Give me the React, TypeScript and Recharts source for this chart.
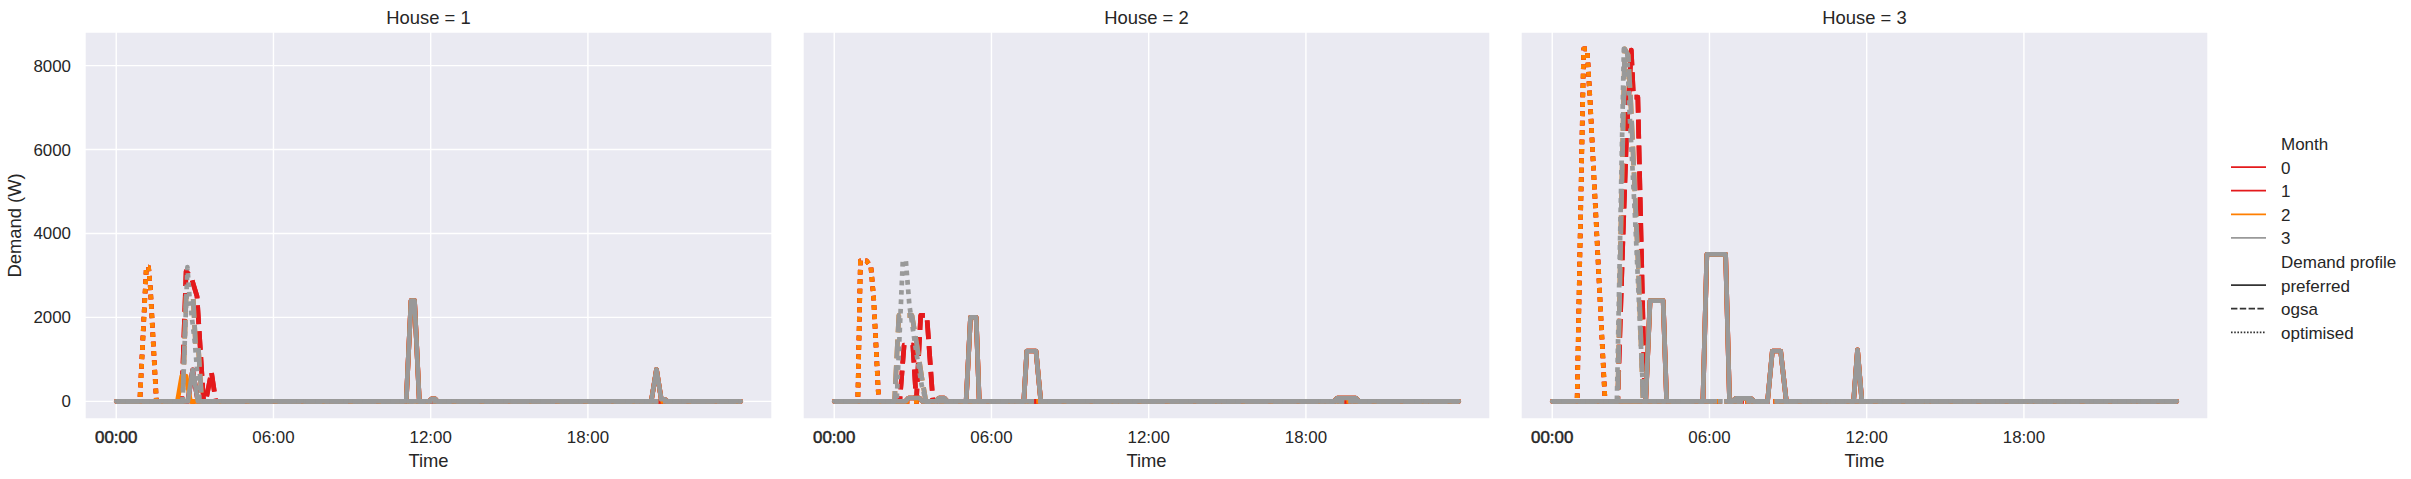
import { LineChart, Line, XAxis, YAxis, CartesianGrid } from "recharts";

const FONT = '"Liberation Sans", Arial, sans-serif';
const INK = "#262626";

const months = [0, 1, 2, 3];
const monthColors = ["#e41a1c", "#e41a1c", "#ff7f00", "#999999"];
const profileNames = ["preferred", "ogsa", "optimised"];
const timeTicks = [0, 360, 720, 1080];
const demandTicks = [0, 2000, 4000, 6000, 8000];

// points are [minute of day, demand in W]
const h1Preferred = [[0, 0], [164, 0], [175, 750], [187, 0], [664, 0], [675, 2400], [683, 2400], [694, 0], [716, 0], [722, 60], [730, 60], [735, 0], [1225, 0], [1237, 760], [1248, 50], [1256, 50], [1262, 0], [1430, 0]];
const h1PreferredM2 = [[0, 0], [140, 0], [150, 600], [160, 600], [170, 0], [664, 0], [675, 2400], [683, 2400], [694, 0], [716, 0], [722, 60], [730, 60], [735, 0], [1225, 0], [1237, 760], [1248, 50], [1256, 50], [1262, 0], [1430, 0]];
const h1OgsaEarly = [[0, 0], [150, 0], [160, 3100], [172, 2950], [185, 2500], [200, 0], [205, 0], [218, 700], [228, 0], [1430, 0]];
const h1OgsaLate = [[0, 0], [152, 0], [160, 2500], [176, 2500], [182, 1300], [188, 1300], [196, 0], [1430, 0]];
const h1Optimised = [[0, 0], [54, 0], [69, 3200], [74, 3200], [78, 2730], [92, 0], [1430, 0]];
const h1OptimisedM3 = [[0, 0], [152, 0], [163, 3200], [168, 2460], [180, 1400], [191, 0], [1430, 0]];

const h2Preferred = [[0, 0], [163, 0], [170, 80], [195, 80], [202, 0], [232, 0], [240, 80], [252, 80], [259, 0], [302, 0], [312, 2000], [325, 2000], [332, 0], [434, 0], [441, 1200], [462, 1200], [473, 0], [1144, 0], [1152, 80], [1194, 80], [1202, 0], [1430, 0]];
const h2OgsaEarly = [[0, 0], [150, 0], [160, 1340], [180, 1340], [188, 0], [198, 2050], [212, 2050], [226, 0], [1430, 0]];
const h2OgsaLate = [[0, 0], [138, 0], [148, 2050], [178, 2050], [190, 1300], [200, 600], [210, 0], [1430, 0]];
const h2Optimised = [[0, 0], [54, 0], [60, 3350], [74, 3350], [84, 3200], [90, 2500], [102, 0], [1430, 0]];
const h2OptimisedM3 = [[0, 0], [143, 0], [157, 3350], [164, 3350], [172, 2300], [186, 1300], [200, 400], [210, 0], [1430, 0]];

const h3Preferred = [[0, 0], [214, 0], [224, 2400], [254, 2400], [262, 0], [345, 0], [354, 3500], [397, 3500], [406, 0], [412, 0], [420, 70], [455, 70], [463, 0], [493, 0], [504, 1200], [523, 1200], [536, 0], [690, 0], [699, 1230], [709, 0], [1430, 0]];
const h3OgsaEarly = [[0, 0], [150, 0], [161, 3600], [170, 6300], [181, 8370], [186, 7250], [196, 7250], [212, 0], [1430, 0]];
const h3OgsaLate = [[0, 0], [150, 0], [157, 4000], [166, 8400], [174, 8250], [180, 7100], [198, 3000], [208, 0], [1430, 0]];
const h3Optimised = [[0, 0], [57, 0], [72, 8400], [80, 8400], [87, 7100], [100, 4400], [110, 2300], [121, 0], [1430, 0]];
const h3OptimisedM3 = [[0, 0], [148, 0], [164, 8400], [172, 8300], [176, 7100], [190, 4300], [209, 0], [1430, 0]];

// per house: profile -> series for months 0..3
const houses = [
  {
    label: "House = 1",
    preferred: [h1Preferred, h1Preferred, h1PreferredM2, h1Preferred],
    ogsa: [h1OgsaEarly, h1OgsaEarly, h1OgsaLate, h1OgsaLate],
    optimised: [h1Optimised, h1Optimised, h1Optimised, h1OptimisedM3],
  },
  {
    label: "House = 2",
    preferred: [h2Preferred, h2Preferred, h2Preferred, h2Preferred],
    ogsa: [h2OgsaEarly, h2OgsaEarly, h2OgsaLate, h2OgsaLate],
    optimised: [h2Optimised, h2Optimised, h2Optimised, h2OptimisedM3],
  },
  {
    label: "House = 3",
    preferred: [h3Preferred, h3Preferred, h3Preferred, h3Preferred],
    ogsa: [h3OgsaEarly, h3OgsaEarly, h3OgsaLate, h3OgsaLate],
    optimised: [h3Optimised, h3Optimised, h3Optimised, h3OptimisedM3],
  },
];

const LW = 4.7;
const dashes: Record<string, string | undefined> = {
  preferred: undefined,
  ogsa: `${LW * 4} ${LW * 1.5}`,
  optimised: `${LW} ${LW}`,
};

const PLOT_LEFTS = [85, 803, 1521];
const PLOT_W = 687;
const PLOT_TOP = 32;
const PLOT_H = 387;
const AXIS_W = 85;

const hhmm = (m: number) =>
  `${String(Math.floor(m / 60)).padStart(2, "0")}:${String(m % 60).padStart(2, "0")}`;

const toPoints = (pairs: number[][]) => pairs.map(([t, w]) => ({ t, w }));

function TimeTick(props: any) {
  const { x, y, payload } = props;
  const first = payload.value === 0;
  return (
    <text x={x} y={y} dy="0.71em" textAnchor="middle" fill={INK} fontSize={16.9}
      stroke={first ? INK : "none"} strokeWidth={first ? 0.5 : 0}>
      {hhmm(payload.value)}
    </text>
  );
}

function Panel({ house, index }: { house: any; index: number }) {
  const showY = index === 0;
  return (
    <div style={{ position: "absolute", left: PLOT_LEFTS[index] - AXIS_W, top: 0 }}>
      <LineChart width={AXIS_W + PLOT_W} height={479} margin={{ top: PLOT_TOP, right: 0, bottom: 0, left: 0 }}>
        <CartesianGrid fill="#eaeaf2" fillOpacity={1} stroke="#ffffff" strokeWidth={1.4} />
        <XAxis type="number" dataKey="t" domain={[-71.5, 1501.5]} ticks={timeTicks} allowDataOverflow
          height={479 - PLOT_TOP - PLOT_H} axisLine={false} tickLine={false} tickSize={0} tickMargin={12.5}
          tick={<TimeTick />} interval={0} />
        <YAxis type="number" domain={[-420, 8800]} ticks={demandTicks} allowDataOverflow width={AXIS_W}
          axisLine={false} tickLine={false} tickSize={0} tickMargin={14} interval={0}
          tick={showY ? { fill: INK, fontSize: 16.9 } : false} />
        {months.map((m) =>
          profileNames.map((p) => (
            <Line key={`${m}-${p}`} data={toPoints(house[p][m])} dataKey="w" type="linear"
              stroke={monthColors[m]} strokeWidth={LW} strokeDasharray={dashes[p]}
              strokeLinecap={p === "preferred" ? "round" : "butt"} strokeLinejoin="round"
              dot={false} activeDot={false} isAnimationActive={false} />
          ))
        )}
      </LineChart>
    </div>
  );
}

const legendRows = [
  { text: "Month", y: 144 },
  { text: "0", y: 167.6, color: monthColors[0] },
  { text: "1", y: 191.2, color: monthColors[1] },
  { text: "2", y: 214.8, color: monthColors[2] },
  { text: "3", y: 238.4, color: monthColors[3] },
  { text: "Demand profile", y: 262 },
  { text: "preferred", y: 285.6, color: "#333333" },
  { text: "ogsa", y: 309.2, color: "#333333", dash: "6.4 2.4" },
  { text: "optimised", y: 332.8, color: "#333333", dash: "1.6 1.6" },
];

export default function App() {
  return (
    <div style={{ position: "absolute", left: 0, top: 0, width: 2411, height: 479, background: "#ffffff", fontFamily: FONT, overflow: "hidden" }}>
      {houses.map((h, i) => <Panel key={h.label} house={h} index={i} />)}
      <svg width={2411} height={479} style={{ position: "absolute", left: 0, top: 0, pointerEvents: "none" }}>
        {houses.map((h, i) => (
          <g key={h.label}>
            <text x={PLOT_LEFTS[i] + PLOT_W / 2} y={24} textAnchor="middle" fontSize={18.4} fill={INK}>{h.label}</text>
            <text x={PLOT_LEFTS[i] + PLOT_W / 2} y={466.5} textAnchor="middle" fontSize={18.4} fill={INK}>Time</text>
          </g>
        ))}
        <text transform="translate(21,225.5) rotate(-90)" textAnchor="middle" fontSize={18.4} fill={INK}>Demand (W)</text>
        {legendRows.map((r) => (
          <g key={r.text}>
            {r.color && (
              <line x1={2231} x2={2266} y1={r.y - 0.5} y2={r.y - 0.5} stroke={r.color} strokeWidth={1.7}
                strokeDasharray={r.dash} />
            )}
            <text x={2281} y={r.y + 6} fontSize={17} fill={INK}>{r.text}</text>
          </g>
        ))}
      </svg>
    </div>
  );
}
